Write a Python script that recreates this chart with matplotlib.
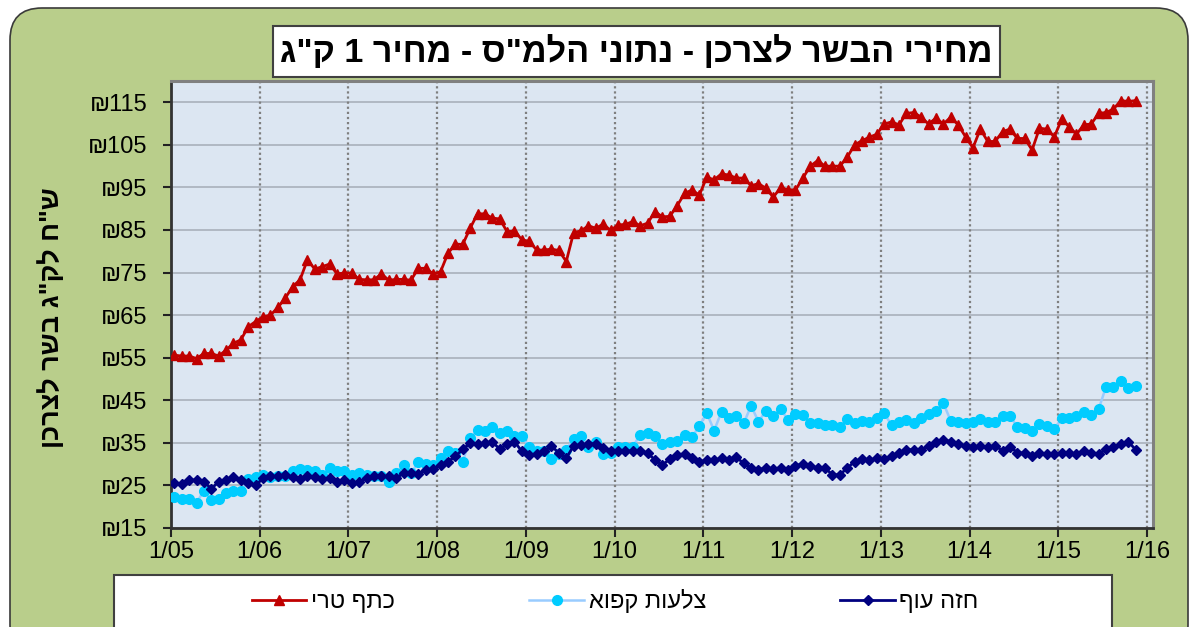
import matplotlib
matplotlib.use("Agg")
import matplotlib.pyplot as plt
import matplotlib.patches as mpatches
from matplotlib.transforms import IdentityTransform
import numpy as np

plt.rcParams['font.family'] = ['Liberation Sans', 'DejaVu Sans']

# ---------------- data ----------------
title_text = 'מחירי הבשר לצרכן - נתוני הלמ"ס - מחיר 1 ק"ג'
ylabel_text = 'ש"ח לק"ג בשר לצרכן'
series_names = ['כתף טרי', 'צלעות קפוא', 'חזה עוף']
x_tick_labels = ['1/05', '1/06', '1/07', '1/08', '1/09', '1/10', '1/11',
                 '1/12', '1/13', '1/14', '1/15', '1/16']
y_ticks = [15, 25, 35, 45, 55, 65, 75, 85, 95, 105, 115]

shoulder_fresh = [
    55.6, 55.4, 55.4, 54.8, 56.0, 56.0, 55.4, 56.8, 58.4, 59.2, 62.3, 63.5,
    64.6, 65.0, 66.8, 69.0, 71.7, 73.3, 78.0, 75.8, 76.4, 77.0, 74.7, 74.9,
    74.9, 73.4, 73.3, 73.3, 74.7, 73.2, 73.4, 73.4, 73.2, 76.0, 76.0, 74.7,
    75.2, 79.5, 81.7, 81.6, 85.4, 88.8, 88.8, 87.8, 87.6, 84.6, 84.8, 82.7,
    82.3, 80.3, 80.3, 80.5, 80.2, 77.6, 84.4, 84.8, 86.0, 85.4, 86.4, 84.9,
    86.2, 86.3, 87.0, 86.0, 86.6, 89.3, 88.1, 88.2, 90.7, 93.6, 94.4, 93.2,
    97.4, 96.8, 98.2, 97.9, 97.2, 97.2, 95.4, 95.9, 94.8, 92.7, 95.0, 94.4,
    94.4, 97.2, 100.0, 101.3, 100.0, 100.0, 100.0, 102.1, 105.0, 106.0, 106.8, 107.5,
    109.9, 110.4, 109.7, 112.4, 112.6, 111.5, 109.9, 111.3, 109.9, 111.5, 109.7, 106.9,
    104.3, 108.7, 105.8, 105.8, 108.1, 108.7, 106.5, 106.5, 103.8, 108.9, 108.7, 106.9,
    111.0, 109.3, 107.5, 109.7, 109.9, 112.4, 112.6, 113.4, 115.4, 115.2, 115.4]

ribs_frozen = [
    22.3, 21.9, 21.8, 20.9, 23.8, 21.6, 21.9, 23.2, 23.6, 23.6, 26.5, 27.0,
    27.5, 27.0, 27.1, 27.1, 28.3, 28.8, 28.7, 28.3, 27.5, 29.2, 28.3, 28.5,
    27.5, 27.9, 27.5, 27.3, 27.3, 25.9, 27.9, 29.8, 27.9, 30.4, 30.1, 29.8,
    31.4, 33.0, 32.6, 30.5, 36.1, 38.0, 37.9, 38.7, 37.4, 37.8, 36.5, 36.6,
    34.1, 33.0, 33.0, 31.3, 32.4, 33.4, 35.9, 36.5, 34.0, 35.3, 32.4, 32.7,
    34.1, 34.1, 34.1, 36.9, 37.4, 36.6, 34.8, 35.3, 35.5, 36.9, 36.3, 39.0,
    42.0, 37.9, 42.3, 40.8, 41.3, 39.6, 43.7, 40.0, 42.5, 41.4, 42.9, 40.4,
    41.8, 41.6, 39.6, 39.6, 39.1, 39.2, 38.8, 40.6, 39.6, 40.2, 40.0, 40.8,
    42.0, 39.1, 39.8, 40.4, 39.6, 40.8, 41.8, 42.5, 44.3, 40.2, 40.0, 39.6,
    40.0, 40.6, 40.0, 39.8, 41.2, 41.4, 38.7, 38.4, 37.9, 39.5, 39.0, 38.2,
    40.8, 40.9, 41.4, 42.3, 41.6, 42.9, 48.2, 48.2, 49.6, 47.8, 48.4]

chicken_breast = [
    25.5, 25.4, 26.2, 26.3, 25.9, 24.2, 25.9, 26.3, 26.9, 26.3, 25.5, 25.0,
    26.7, 27.1, 27.1, 27.5, 26.9, 26.5, 27.3, 26.9, 26.5, 26.7, 25.9, 26.2,
    25.5, 25.7, 26.7, 27.1, 27.1, 27.1, 26.7, 27.9, 28.0, 27.7, 28.7, 28.8,
    29.8, 30.6, 31.8, 33.5, 34.9, 34.8, 34.9, 35.3, 33.5, 34.7, 35.3, 33.0,
    32.2, 32.4, 33.0, 34.3, 32.6, 31.4, 34.3, 34.5, 34.8, 34.8, 33.9, 33.0,
    33.1, 33.1, 33.1, 33.1, 32.6, 31.0, 29.8, 31.2, 32.2, 32.4, 31.4, 30.4,
    30.9, 30.9, 31.4, 31.0, 31.6, 30.2, 29.1, 28.7, 29.1, 28.8, 29.2, 28.7,
    29.6, 30.1, 29.6, 29.1, 29.1, 27.5, 27.5, 29.1, 30.6, 31.2, 30.9, 31.4,
    31.2, 31.8, 32.6, 33.4, 33.4, 33.4, 34.3, 35.3, 35.7, 35.3, 34.8, 34.3,
    34.1, 34.3, 34.1, 34.3, 33.2, 34.1, 32.7, 32.6, 32.0, 32.6, 32.4, 32.4,
    32.7, 32.6, 32.4, 33.2, 32.7, 32.4, 33.5, 34.0, 34.8, 35.3, 33.4]


def rtl(s):
    # visual order for right-to-left Hebrew text
    return s[::-1]


W, H = 1195, 627
fig = plt.figure(figsize=(W / 100, H / 100), dpi=100, facecolor='white')

# outer rounded green panel
outer = mpatches.FancyBboxPatch((10, -30), 1178, H - 8 + 30,
                                boxstyle="round,pad=0,rounding_size=32",
                                transform=IdentityTransform(),
                                facecolor='#B9CE8B', edgecolor='#3a3a3a',
                                linewidth=1.2, zorder=-10)
fig.patches.append(outer)

# plot area
L, R, T, B = 171, 1153, 81, 528
ax = fig.add_axes([L / W, 1 - B / H, (R - L) / W, (B - T) / H])
ax.set_zorder(1)
ax.set_facecolor('#DCE6F2')

n = len(shoulder_fresh)
months = np.arange(n) + 0.45

ax.plot(months, shoulder_fresh, color='#C00000', lw=2.0, marker='^',
        markersize=7.5, markerfacecolor='#C00000', markeredgecolor='#C00000',
        label=rtl(series_names[0]), zorder=3)
ax.plot(months, ribs_frozen, color='#99CCFF', lw=1.8, marker='o',
        markersize=7, markerfacecolor='#00CCFF', markeredgecolor='#00CCFF',
        label=rtl(series_names[1]), zorder=3)
ax.plot(months, chicken_breast, color='#000080', lw=2.0, marker='D',
        markersize=5.5, markerfacecolor='#000080', markeredgecolor='#000080',
        label=rtl(series_names[2]), zorder=4)

ax.set_xlim(0, 132.8)
ax.set_ylim(15, 120)
xt = np.arange(len(x_tick_labels)) * 12
ax.set_xticks(xt)
ax.set_xticklabels(x_tick_labels, fontsize=17)
ax.set_yticks(y_ticks)
ax.set_yticklabels(['₪' + str(v) for v in y_ticks], fontsize=17)
ax.tick_params(axis='y', length=6, width=1.5, pad=11, color='#222222')
ax.tick_params(axis='x', length=6.5, width=1.5, pad=3, color='#222222')

for v in y_ticks:
    ax.axhline(v, color='#A9B1BB', lw=1.2, zorder=1)
for v in xt:
    ax.axvline(v, color='#7F7F7F', lw=1.6, ls=(0, (1, 1.3)), zorder=1)

for s in ['top', 'right']:
    ax.spines[s].set_color('#808080')
    ax.spines[s].set_linewidth(2.2)
for s in ['left', 'bottom']:
    ax.spines[s].set_color('#333333')
    ax.spines[s].set_linewidth(2.0)

# title box
fig.patches.append(mpatches.Rectangle((273, H - 77), 727, 51,
                                      transform=IdentityTransform(),
                                      facecolor='white', edgecolor='#404040',
                                      linewidth=1.5, zorder=2))
title = fig.text(636.5 / W, 1 - 52 / H, rtl(title_text), fontsize=22,
                 fontweight='bold', ha='center', va='center', zorder=3)

ylab = fig.text(52 / W, 1 - 317.5 / H, rtl(ylabel_text), fontsize=18,
                fontweight='bold', rotation=90, ha='center', va='center')

# legend box
fig.patches.append(mpatches.Rectangle((114, -20), 998, H - 575 + 20,
                                      transform=IdentityTransform(),
                                      facecolor='white', edgecolor='#404040',
                                      linewidth=1.5, zorder=2))
handles, labels = ax.get_legend_handles_labels()
leg = fig.legend(handles, labels, loc='center left',
                 bbox_to_anchor=(252 / W, 1 - 601 / H), ncol=3, frameon=False,
                 fontsize=17, handlelength=2.3, handletextpad=0.2,
                 columnspacing=5.7, borderpad=0, borderaxespad=0, numpoints=1)
leg.set_zorder(5)

# fit title and y-label widths to the reference
fig.canvas.draw()
r = fig.canvas.get_renderer()
bb = title.get_window_extent(r)
title.set_fontsize(title.get_fontsize() * 712 / bb.width)
bb = ylab.get_window_extent(r)
ylab.set_fontsize(ylab.get_fontsize() * 261 / bb.height)

fig.savefig('out.png', dpi=100, facecolor='white')
